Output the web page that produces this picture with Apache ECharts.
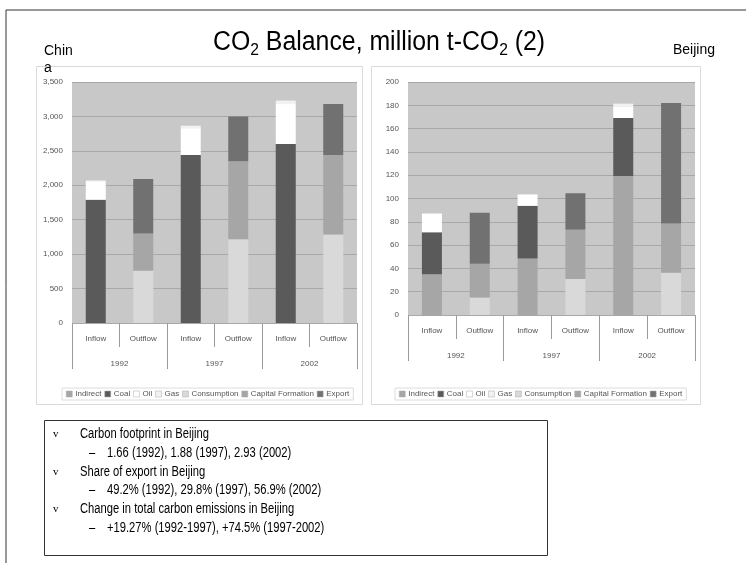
<!DOCTYPE html>
<html>
<head>
<meta charset="utf-8">
<script src="https://cdn.jsdelivr.net/npm/echarts@6/dist/echarts.min.js"></script>
<style>
html,body{margin:0;padding:0;background:#fff;}
#main{width:746px;height:563px;}
</style>
</head>
<body>
<div id="main"></div>
<script>
// ---- data ----
var flowCats = ['Inflow', 'Outflow', 'Inflow', 'Outflow', 'Inflow', 'Outflow'];
var yearCats = ['1992', '1997', '2002'];
var seriesNames = ['Indirect', 'Coal', 'Oil', 'Gas', 'Consumption', 'Capital Formation', 'Export'];

// China (million t-CO2)
var chinaIndirect = ['-', '-', '-', '-', '-', '-'];
var chinaCoal = [1790, '-', 2440, '-', 2600, '-'];
var chinaOil = [270, '-', 390, '-', 580, '-'];
var chinaGas = [10, '-', 35, '-', 50, '-'];
var chinaConsumption = ['-', 760, '-', 1215, '-', 1285];
var chinaCapital = ['-', 540, '-', 1135, '-', 1155];
var chinaExport = ['-', 790, '-', 650, '-', 740];

// Beijing (million t-CO2)
var bjIndirect = [35, '-', 48.6, '-', 119.4, '-'];
var bjCoal = [36, '-', 45.1, '-', 49.7, '-'];
var bjOil = [16, '-', 9.7, '-', 9.5, '-'];
var bjGas = [0.3, '-', 0.3, '-', 2.8, '-'];
var bjConsumption = ['-', 15, '-', 31, '-', 36.3];
var bjCapital = ['-', 29, '-', 42.3, '-', 42.3];
var bjExport = ['-', 43.7, '-', 31.2, '-', 103.4];

var bulletLines = [
  'Carbon footprint in Beijing',
  '1.66 (1992), 1.88 (1997), 2.93 (2002)',
  'Share of export in Beijing',
  '49.2% (1992), 29.8% (1997), 56.9% (2002)',
  'Change in total carbon emissions in Beijing',
  '+19.27% (1992-1997), +74.5% (1997-2002)'
];

// ---- styles ----
var colors = ['#a6a6a6', '#5a5a5a', '#ffffff', '#f2f2f2', '#d9d9d9', '#a6a6a6', '#717171'];
var FONT = '"Liberation Sans", Arial, sans-serif';

var chart = echarts.init(document.getElementById('main'));

function buildSeries(arrays, idx) {
  return arrays.map(function (arr, i) {
    return {
      name: seriesNames[i],
      type: 'bar',
      stack: 'stack' + idx,
      xAxisIndex: idx * 2,
      yAxisIndex: idx,
      barWidth: 20,
      data: arr,
      itemStyle: { color: colors[i] },
      emphasis: { disabled: true }
    };
  });
}

var chinaArrays = [chinaIndirect, chinaCoal, chinaOil, chinaGas, chinaConsumption, chinaCapital, chinaExport];
var bjArrays = [bjIndirect, bjCoal, bjOil, bjGas, bjConsumption, bjCapital, bjExport];

function xAxes(gi) {
  return [{
    type: 'category', gridIndex: gi, data: flowCats, position: 'bottom',
    axisLine: { show: false },
    axisTick: { show: true, interval: 0, length: 24, lineStyle: { color: '#9a9a9a' } },
    axisLabel: { interval: 0, margin: 12, fontSize: 8, color: '#555', fontFamily: FONT }
  }, {
    type: 'category', gridIndex: gi, data: yearCats, position: 'bottom',
    axisLine: { show: false },
    axisTick: { show: true, interval: 0, length: 46, lineStyle: { color: '#9a9a9a' } },
    axisLabel: { interval: 0, margin: 37, fontSize: 8, color: '#555', fontFamily: FONT }
  }];
}

function legend(left, width) {
  return {
    data: seriesNames, left: left, top: 388, width: width,
    itemWidth: 6, itemHeight: 6, itemGap: 3,
    icon: 'rect',
    borderColor: '#dcdcdc', borderWidth: 1, padding: [2, 4],
    itemStyle: { borderColor: '#aaa', borderWidth: 0.5 },
    textStyle: { fontSize: 8, color: '#555', fontFamily: FONT, padding: [0, 0, 0, -2] },
    selectedMode: false
  };
}

var graphics = [
  // slide frame lines
  { type: 'line', shape: { x1: 6, y1: 10, x2: 746, y2: 10 }, style: { stroke: '#333', lineWidth: 1 } },
  { type: 'line', shape: { x1: 6, y1: 10, x2: 6, y2: 563 }, style: { stroke: '#333', lineWidth: 1 } },
  // panels
  { type: 'rect', shape: { x: 36.5, y: 66.5, width: 326, height: 338 }, style: { fill: null, stroke: '#dadada', lineWidth: 1 }, z: -1 },
  { type: 'rect', shape: { x: 371.5, y: 66.5, width: 329, height: 338 }, style: { fill: null, stroke: '#dadada', lineWidth: 1 }, z: -1 },
  // text box
  { type: 'rect', shape: { x: 44.5, y: 420.5, width: 503, height: 135 }, style: { fill: null, stroke: '#333', lineWidth: 1 } },
  // title
  { type: 'text', x: 213, y: 27, scaleX: 0.92, style: {
      text: '{a|CO}{s|2}{a| Balance, million t-CO}{s|2}{a| (2)}',
      rich: {
        a: { fontSize: 27, lineHeight: 32, fontFamily: FONT, fill: '#000' },
        s: { fontSize: 17, lineHeight: 17, verticalAlign: 'bottom', fontFamily: FONT, fill: '#000' }
      }
    } },
  { type: 'text', x: 44, y: 43, style: { text: 'China', width: 31, overflow: 'breakAll', fontSize: 14, lineHeight: 17, fontFamily: FONT, fill: '#000' }, z: 10 },
  { type: 'text', x: 673, y: 43, style: { text: 'Beijing', fontSize: 14, fontFamily: FONT, fill: '#000' } }
];

var lineYs = [434, 453, 472, 490, 509, 528];
bulletLines.forEach(function (t, i) {
  var y = lineYs[i];
  if (i % 2 === 0) {
    graphics.push({ type: 'text', x: 53, y: y, style: { text: 'v', fontSize: 11, fontFamily: '"Liberation Serif", serif', fill: '#000', verticalAlign: 'middle' } });
    graphics.push({ type: 'text', x: 80, y: y, scaleX: 0.8, style: { text: t, fontSize: 14, fontFamily: FONT, fill: '#000', verticalAlign: 'middle' } });
  } else {
    graphics.push({ type: 'text', x: 89, y: y, scaleX: 0.8, style: { text: '\u2013', fontSize: 14, fontFamily: FONT, fill: '#000', verticalAlign: 'middle' } });
    graphics.push({ type: 'text', x: 107, y: y, scaleX: 0.8, style: { text: t, fontSize: 14, fontFamily: FONT, fill: '#000', verticalAlign: 'middle' } });
  }
});

var option = {
  backgroundColor: '#fff',
  animation: false,
  grid: [
    { left: 72, top: 82, width: 285, height: 241, show: true, backgroundColor: '#c8c8c8', borderWidth: 0 },
    { left: 408, top: 82, width: 287, height: 233, show: true, backgroundColor: '#c8c8c8', borderWidth: 0 }
  ],
  xAxis: xAxes(0).concat(xAxes(1)),
  yAxis: [{
    type: 'value', gridIndex: 0, min: 0, max: 3500, interval: 500,
    axisLine: { show: false }, axisTick: { show: false },
    splitLine: { lineStyle: { color: '#a8a8a8', width: 1 } },
    axisLabel: { fontSize: 8, color: '#555', margin: 9, fontFamily: FONT,
      formatter: function (v) { return v.toLocaleString('en-US'); } }
  }, {
    type: 'value', gridIndex: 1, min: 0, max: 200, interval: 20,
    axisLine: { show: false }, axisTick: { show: false },
    splitLine: { lineStyle: { color: '#a8a8a8', width: 1 } },
    axisLabel: { fontSize: 8, color: '#555', margin: 9, fontFamily: FONT }
  }],
  legend: [legend(62, 300), legend(395, 300)],
  series: buildSeries(chinaArrays, 0).concat(buildSeries(bjArrays, 1)),
  graphic: graphics
};
chart.setOption(option);
</script>
</body>
</html>
